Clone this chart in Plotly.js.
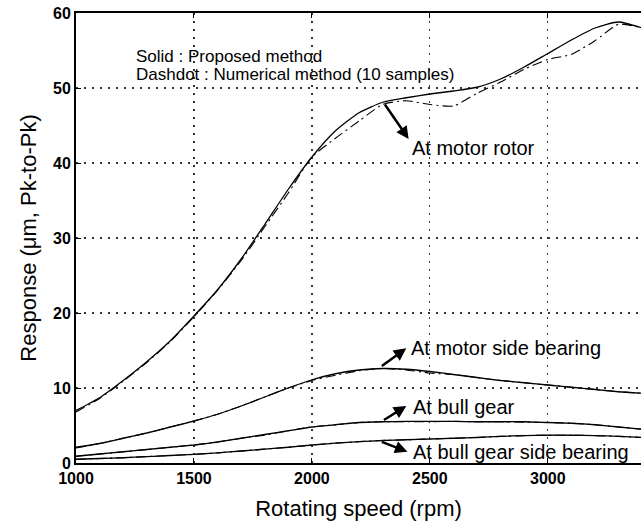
<!DOCTYPE html>
<html>
<head>
<meta charset="utf-8">
<script src="https://cdn.plot.ly/plotly-3.0.1.min.js"></script>
<style>
  html, body { margin: 0; padding: 0; background: #fff; }
  #chart { width: 641px; height: 528px; }
</style>
</head>
<body>
<div id="chart"></div>
<script>
// Rotating speed grid (rpm)
const rpm = [1000, 1100, 1200, 1300, 1400, 1500, 1600, 1700, 1800, 1900, 2000,
             2100, 2200, 2300, 2400, 2500, 2600, 2700, 2800, 2900, 3000,
             3100, 3200, 3300, 3400];

// Proposed method (solid)
const rotorSolid   = [7.0, 8.7, 11.0, 13.5, 16.3, 19.6, 23.1, 27.2, 31.8, 36.5, 40.8,
                      44.3, 46.7, 48.1, 48.7, 49.2, 49.6, 50.1, 51.2, 52.8, 54.6,
                      56.4, 58.0, 58.8, 58.0];
const motorBrgSolid = [2.1, 2.6, 3.3, 4.0, 4.8, 5.6, 6.5, 7.6, 8.8, 10.0, 11.1,
                       11.9, 12.4, 12.6, 12.5, 12.2, 11.8, 11.4, 11.0, 10.7, 10.4,
                       10.1, 9.8, 9.5, 9.3];
const gearSolid    = [0.9, 1.2, 1.5, 1.8, 2.1, 2.4, 2.8, 3.3, 3.8, 4.3, 4.8,
                      5.1, 5.4, 5.5, 5.55, 5.55, 5.55, 5.5, 5.5, 5.5, 5.4,
                      5.3, 5.1, 4.8, 4.5];
const gearBrgSolid = [0.5, 0.6, 0.7, 0.85, 1.0, 1.15, 1.35, 1.6, 1.85, 2.1, 2.4,
                      2.65, 2.85, 3.0, 3.1, 3.2, 3.3, 3.4, 3.55, 3.65, 3.7,
                      3.7, 3.65, 3.55, 3.4];

// Numerical method, 10 samples (dashdot)
const rotorNum     = [6.8, 8.6, 10.9, 13.4, 16.2, 19.5, 23.0, 27.0, 31.5, 36.0, 40.8,
                      43.3, 45.6, 47.8, 48.3, 47.8, 47.6, 49.3, 50.8, 52.5, 53.8,
                      54.5, 56.3, 58.5, 58.0];
const motorBrgNum  = [2.0, 2.6, 3.3, 4.0, 4.8, 5.6, 6.5, 7.6, 8.8, 10.0, 11.0,
                      11.7, 12.3, 12.6, 12.4, 12.0, 11.8, 11.4, 11.0, 10.7, 10.4,
                      10.1, 9.8, 9.5, 9.3];
const gearNum      = [0.9, 1.2, 1.5, 1.8, 2.1, 2.4, 2.8, 3.3, 3.7, 4.3, 4.8,
                      5.1, 5.4, 5.5, 5.5, 5.5, 5.55, 5.5, 5.5, 5.45, 5.4,
                      5.3, 5.1, 4.8, 4.5];
const gearBrgNum   = [0.5, 0.6, 0.7, 0.85, 1.0, 1.15, 1.35, 1.6, 1.85, 2.1, 2.4,
                      2.65, 2.85, 3.0, 3.1, 3.2, 3.3, 3.4, 3.55, 3.65, 3.7,
                      3.7, 3.65, 3.55, 3.4];

const xTicks = [1000, 1500, 2000, 2500, 3000];
const yTicks = [0, 10, 20, 30, 40, 50, 60];

const solidLine = { color: '#000', width: 1.3, shape: 'spline', smoothing: 0.6 };
const dashLine  = { color: '#000', width: 1.1, shape: 'spline', smoothing: 0.6, dash: '10px,4px,2px,4px' };

const solidSets = [rotorSolid, motorBrgSolid, gearSolid, gearBrgSolid];
const numSets   = [rotorNum, motorBrgNum, gearNum, gearBrgNum];

const traces = [];
numSets.forEach(ys => traces.push({ x: rpm, y: ys, mode: 'lines', line: dashLine, hoverinfo: 'skip' }));
solidSets.forEach(ys => traces.push({ x: rpm, y: ys, mode: 'lines', line: solidLine, hoverinfo: 'skip' }));

// Curve labels: arrow tail on the curve, head next to the label
const labels = [
  { text: 'At motor rotor',            tx: 2415, ty: 42.0, hx: 2410, hy: 43.2, cx: 2305, cy: 48.0 },
  { text: 'At motor side bearing',     tx: 2411, ty: 15.4, hx: 2400, hy: 15.3, cx: 2290, cy: 12.8 },
  { text: 'At bull gear',              tx: 2419, ty: 7.5,  hx: 2400, hy: 7.6,  cx: 2299, cy: 5.6 },
  { text: 'At bull gear side bearing', tx: 2419, ty: 1.5,  hx: 2405, hy: 1.5,  cx: 2290, cy: 2.9 }
];

const labelFont = { family: 'Liberation Sans, Arial, sans-serif', size: 20, color: '#000' };
const annotations = [];
labels.forEach(l => {
  annotations.push({
    x: l.hx, y: l.hy, ax: l.cx, ay: l.cy, axref: 'x', ayref: 'y', xref: 'x', yref: 'y',
    text: '', showarrow: true, arrowhead: 2, arrowsize: 1, arrowwidth: 2.5, arrowcolor: '#000',
    standoff: 0, startstandoff: 0
  });
  annotations.push({
    x: l.tx, y: l.ty, xref: 'x', yref: 'y', text: l.text, showarrow: false,
    xanchor: 'left', yanchor: 'middle', font: labelFont
  });
});

const keyFont = { family: 'Liberation Sans, Arial, sans-serif', size: 17, color: '#000' };
annotations.push({ x: 1246, y: 54.2, xref: 'x', yref: 'y', text: 'Solid : Proposed method',
  showarrow: false, xanchor: 'left', yanchor: 'middle', font: keyFont });
annotations.push({ x: 1246, y: 51.8, xref: 'x', yref: 'y', text: 'Dashdot : Numerical method (10 samples)',
  showarrow: false, xanchor: 'left', yanchor: 'middle', font: keyFont });

const tickFont = { family: 'Liberation Sans, Arial, sans-serif', size: 16, color: '#000', weight: 'bold' };
const titleFont = { family: 'Liberation Sans, Arial, sans-serif', size: 22, color: '#000' };

const layout = {
  width: 641, height: 528,
  margin: { l: 76, r: 0, t: 13, b: 65 },
  paper_bgcolor: '#fff', plot_bgcolor: '#fff',
  showlegend: false,
  xaxis: {
    range: [1000, 3395], tickvals: xTicks, ticktext: xTicks.map(String),
    showline: true, linewidth: 2, linecolor: '#000', mirror: 'ticks',
    ticks: 'inside', ticklen: 5, tickwidth: 1, tickcolor: '#000',
    showgrid: true, gridcolor: '#333', gridwidth: 1.2, griddash: '2px,6px',
    zeroline: false, tickfont: tickFont,
    title: { text: 'Rotating speed (rpm)', font: titleFont, standoff: 14 }
  },
  yaxis: {
    range: [0, 60], tickvals: yTicks, ticktext: yTicks.map(String),
    showline: true, linewidth: 2, linecolor: '#000',
    ticks: 'inside', ticklen: 5, tickwidth: 1, tickcolor: '#000',
    showgrid: true, gridcolor: '#333', gridwidth: 1.2, griddash: '2px,6px',
    zeroline: false, tickfont: tickFont,
    title: { text: 'Response (μm, Pk-to-Pk)', font: titleFont, standoff: 10 }
  },
  annotations: annotations
};

Plotly.newPlot('chart', traces, layout, { displayModeBar: false, staticPlot: true });
</script>
</body>
</html>
